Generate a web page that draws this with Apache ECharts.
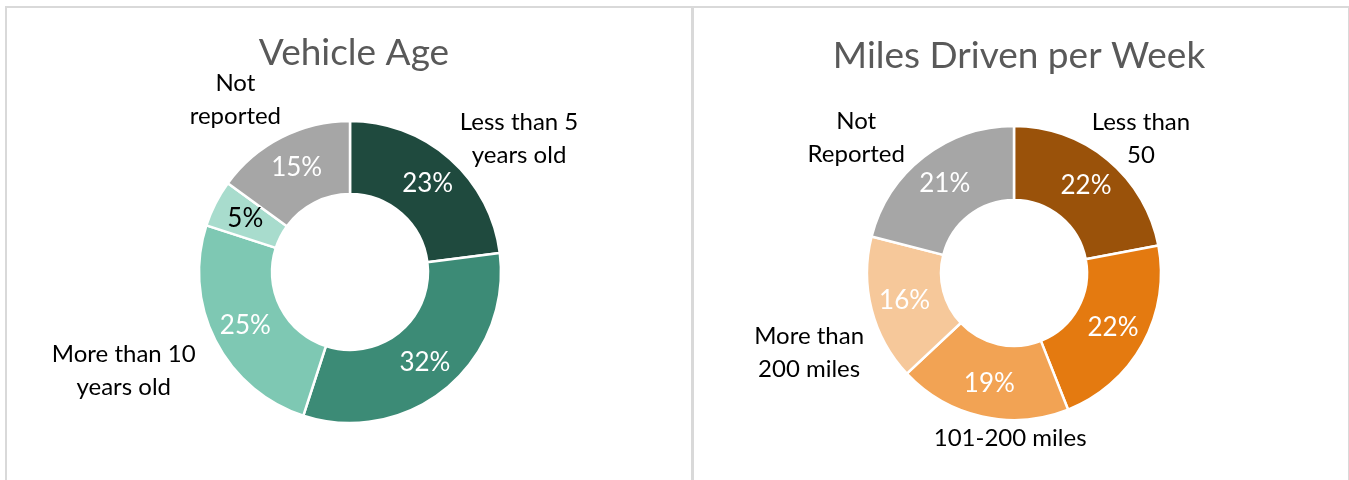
<!DOCTYPE html>
<html>
<head>
<meta charset="utf-8">
<script src="https://cdn.jsdelivr.net/npm/echarts@6/dist/echarts.min.js"></script>
<style>
  html, body { margin: 0; padding: 0; background: #fff; }
  #wrap { position: relative; width: 1349px; height: 480px; overflow: hidden; }
  .panel { position: absolute; top: 6px; height: 500px; border: 2px solid #d9d9d9; box-sizing: border-box; }
  #chart { position: absolute; left: 0; top: 0; width: 1349px; height: 480px; }
</style>
</head>
<body>
<div id="wrap">
  <div class="panel" style="left:5px; width:689px;"></div>
  <div class="panel" style="left:691px; width:659px;"></div>
  <div id="chart"></div>
</div>
<script>
// vehicle age (%), clockwise from 12 o'clock
const vehicleLabels = ['Less than 5\nyears old', '5-10 years\nold', 'More than 10\nyears old', 'No vehicle', 'Not\nreported'];
const vehicleValues = [23, 32, 25, 5, 15];

// miles driven per week (%)
const milesLabels = ['Less than\n50', '50-100\nmiles', '101-200 miles', 'More than\n200 miles', 'Not\nReported'];
const milesValues = [22, 22, 19, 16, 21];

const FONT = 'Lato';

const vehicleColors = ['#1f4a3e', '#3c8b76', '#7ec8b3', '#a8dccd', '#a6a6a6'];
const vehiclePctColors = ['#fff', '#fff', '#fff', '#000', '#fff'];
const milesColors = ['#9a520a', '#e47a10', '#f2a354', '#f6c89a', '#a6a6a6'];
const milesPctColors = ['#fff', '#fff', '#fff', '#fff', '#fff'];

// [length, length2] of the (hidden) label line, so the names sit where Excel put them
const vehicleNameLine = [[26, -43], [11, -10], [67, -63], [10, -28], [42, -68]];
const milesNameLine = [[27, -79], [-29, -7], [22, -128], [175, -202], [24, -42]];

function donut(labels, values, colors, pctColors, nameLine, center, radius) {
  const pct = {
    type: 'pie',
    center: center,
    radius: radius,
    startAngle: 90,
    silent: true,
    avoidLabelOverlap: false,
    emphasis: { disabled: true },
    itemStyle: { borderColor: '#fff', borderWidth: 2.5 },
    label: {
      show: true,
      position: 'inside',
      formatter: '{c}%',
      fontFamily: FONT,
      fontSize: 26
    },
    labelLine: { show: false },
    data: values.map((v, i) => ({
      value: v,
      name: labels[i],
      itemStyle: { color: colors[i] },
      label: { color: pctColors[i] }
    }))
  };
  const names = {
    type: 'pie',
    center: center,
    radius: radius,
    startAngle: 90,
    silent: true,
    avoidLabelOverlap: false,
    emphasis: { disabled: true },
    itemStyle: { color: 'rgba(0,0,0,0)', borderWidth: 0 },
    label: {
      show: true,
      position: 'outside',
      alignTo: 'none',
      distanceToLabelLine: 0,
      formatter: p => p.name.split('\n').map(s => '{c|' + s + '}').join('\n'),
      rich: {
        c: { width: 190, align: 'center', fontFamily: FONT, fontSize: 24, lineHeight: 33, color: '#000' }
      }
    },
    labelLine: { show: false },
    data: values.map((v, i) => ({
      value: v,
      name: labels[i],
      labelLine: { length: nameLine[i][0], length2: nameLine[i][1] }
    }))
  };
  return [pct, names];
}

const chart = echarts.init(document.getElementById('chart'));
chart.setOption({
  animation: false,
  title: [
    {
      text: 'Vehicle Age',
      left: 349, top: 30, textAlign: 'center',
      textStyle: { fontFamily: FONT, fontSize: 37, fontWeight: 'normal', color: '#595959' }
    },
    {
      text: 'Miles Driven per Week',
      left: 1014, top: 33, textAlign: 'center',
      textStyle: { fontFamily: FONT, fontSize: 37, fontWeight: 'normal', color: '#595959' }
    }
  ],
  series: [
    ...donut(vehicleLabels, vehicleValues, vehicleColors, vehiclePctColors, vehicleNameLine, [350, 272], [78, 151]),
    ...donut(milesLabels, milesValues, milesColors, milesPctColors, milesNameLine, [1014, 273], [73, 147])
  ]
});
</script>
</body>
</html>
